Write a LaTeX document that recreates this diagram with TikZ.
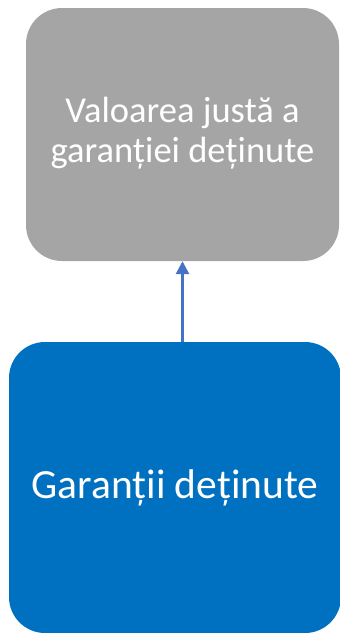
\documentclass[tikz,border=0pt]{standalone}
\usepackage{fontspec}
\setmainfont{Carlito}
\usepackage{tikz}
\usetikzlibrary{positioning, arrows.meta, calc}
\usepackage{xcolor}
\definecolor{boxgray}{HTML}{A5A5A5}
\definecolor{boxblue}{HTML}{0070C0}
\definecolor{arrowblue}{HTML}{4472C4}

\begin{document}
\begin{tikzpicture}[x=1pt, y=-1pt,
  block/.style={rounded corners=36pt, text=white, align=center, inner sep=0pt}]
\useasboundingbox (0,0) rectangle (340,633);
\node[block, fill=boxgray, minimum width=313pt, minimum height=253pt,
  font=\fontsize{36.5}{39.5}\selectfont] (fair) at (182.5,134.5)
  {\raisebox{-4pt}{\begin{tabular}{@{}c@{}}Valoarea justă a\\garanției deținute\end{tabular}}};
\node[block, fill=boxblue, minimum width=332pt, minimum height=291pt,
  font=\fontsize{41.5}{46}\selectfont] (held) at (175,487.5) {\raisebox{-6pt}{Garanții deținute}};
\draw[arrowblue, line width=2.8pt, -{Triangle[length=13pt, width=13pt]}] (held.north -| fair.south) -- (fair.south);
\end{tikzpicture}
\end{document}
